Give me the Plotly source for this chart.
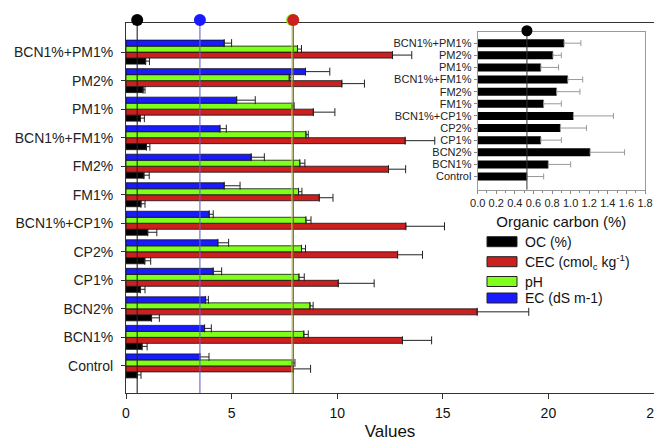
import plotly.graph_objects as go

categories = ["Control", "BCN1%", "BCN2%", "CP1%", "CP2%", "BCN1%+CP1%",
              "FM1%", "FM2%", "BCN1%+FM1%", "PM1%", "PM2%", "BCN1%+PM1%"]

ec = [3.50, 3.72, 3.77, 4.13, 4.35, 3.94, 4.65, 5.93, 4.45, 5.24, 8.50, 4.65]
ec_err = [0.43, 0.32, 0.13, 0.40, 0.51, 0.19, 0.75, 0.62, 0.30, 0.88, 1.15, 0.35]
ph = [7.86, 8.42, 8.71, 8.19, 8.31, 8.52, 8.17, 8.23, 8.52, 7.86, 7.73, 8.12]
ph_err = [0.14, 0.21, 0.15, 0.25, 0.19, 0.24, 0.16, 0.24, 0.11, 0.10, 0.08, 0.19]
cec = [7.92, 13.09, 16.63, 10.05, 12.86, 13.25, 9.15, 12.43, 13.22, 8.87, 10.22, 12.62]
cec_err = [0.82, 1.38, 2.44, 1.70, 1.18, 1.83, 0.65, 0.81, 1.40, 1.02, 1.07, 0.91]
oc = [0.53, 0.76, 1.21, 0.68, 0.89, 1.03, 0.71, 0.85, 0.97, 0.68, 0.81, 0.93]
oc_err = [0.18, 0.24, 0.37, 0.22, 0.28, 0.43, 0.19, 0.25, 0.16, 0.19, 0.09, 0.18]

series_names = ["OC (%)", "CEC (cmol<sub>c</sub> kg<sup>-1</sup>)", "pH", "EC (dS m-1)"]
x_ticks = [0, 5, 10, 15, 20, 25]
inset_ticks = [0.0, 0.2, 0.4, 0.6, 0.8, 1.0, 1.2, 1.4, 1.6, 1.8]

colors = {"oc": "#000000", "cec": "#cc1f1f", "ph": "#80ff1a", "ec": "#1a1aff"}
line_colors = {"oc": "#222222", "cec": "#b03030", "ph": "#90ee60", "ec": "#6666cc"}

FONT = "Arial, Liberation Sans, sans-serif"
ypos = list(range(len(categories)))  # category positions on the y axis
fig = go.Figure()

series = [("oc", oc, oc_err), ("cec", cec, cec_err), ("ph", ph, ph_err), ("ec", ec, ec_err)]
for (key, vals, errs), name in zip(series, series_names):
    fig.add_trace(go.Bar(
        y=ypos, x=vals, orientation="h", name=name, showlegend=False,
        marker=dict(color=colors[key], line=dict(color="#111111", width=0.8)),
        error_x=dict(type="data", symmetric=False, array=errs,
                     arrayminus=[0] * len(errs), color="#222222",
                     thickness=1, width=4),
        xaxis="x", yaxis="y",
    ))

# reference lines at control values with dots on top
y_lo, y_hi = -0.95, 12.02
for key, vals in [("oc", oc), ("ec", ec), ("ph", ph), ("cec", cec)]:
    v = vals[0]
    fig.add_trace(go.Scatter(
        x=[v, v], y=[y_lo, y_hi], mode="lines",
        line=dict(color=line_colors[key], width=1.1),
        showlegend=False, hoverinfo="skip", xaxis="x", yaxis="y",
    ))
    fig.add_shape(type="circle", layer="above",
                  xref="x", xsizemode="pixel", xanchor=v, x0=-6, x1=6,
                  yref="y domain", ysizemode="pixel", yanchor=1, y0=-3, y1=9,
                  fillcolor=colors[key], line=dict(width=0))

# inset OC chart
fig.add_trace(go.Bar(
    y=ypos, x=oc, orientation="h", showlegend=False, width=0.66,
    marker=dict(color="#000000", line=dict(width=0)),
    error_x=dict(type="data", symmetric=False, array=oc_err,
                 arrayminus=[0] * len(oc_err), color="#999999",
                 thickness=1, width=3),
    xaxis="x2", yaxis="y2",
))
i_lo, i_hi = -1.1, 11.9
fig.add_trace(go.Scatter(
    x=[oc[0], oc[0]], y=[i_lo, i_hi], mode="lines",
    line=dict(color="#333333", width=1),
    showlegend=False, hoverinfo="skip", xaxis="x2", yaxis="y2",
))
fig.add_shape(type="circle", layer="above",
              xref="x2", xsizemode="pixel", xanchor=oc[0], x0=-5.5, x1=5.5,
              yref="y2 domain", ysizemode="pixel", yanchor=1, y0=-4, y1=7,
              fillcolor="#000000", line=dict(width=0))

# manual legend (30x10 swatches); page pixel -> paper conversion
PX_L, PX_R, PX_T, PX_B = 126, 654, 23, 393
def px2paper_x(px):
    return (px - PX_L) / (PX_R - PX_L)
def px2paper_y(py):
    return (PX_B - py) / (PX_B - PX_T)

legend_y = [241.7, 261.7, 281.5, 298.0]
for (key, _, _), name, cy in zip(series, series_names, legend_y):
    fig.add_shape(type="rect", xref="paper", yref="paper",
                  x0=px2paper_x(487), x1=px2paper_x(517),
                  y0=px2paper_y(cy + 5), y1=px2paper_y(cy - 5),
                  fillcolor=colors[key], line=dict(color="#222222", width=1))
    fig.add_annotation(xref="paper", yref="paper", x=px2paper_x(523),
                       y=px2paper_y(cy), text=name, showarrow=False,
                       xanchor="left", yanchor="middle",
                       font=dict(family=FONT, size=14, color="#111111"))

# page has an 8px body margin: figure is 654x436 placed at (8,8)
fig.update_layout(
    width=654, height=436, autosize=False,
    margin=dict(l=118, r=8, t=15, b=51, pad=0),
    paper_bgcolor="white", plot_bgcolor="white",
    barmode="group", bargap=0.16, bargroupgap=0,
    font=dict(family=FONT, color="#111111"),
    xaxis=dict(range=[0, 25], tickvals=x_ticks, ticks="outside", ticklen=5,
               tickcolor="#333333", showline=True, linecolor="#333333",
               linewidth=1, mirror=True, showgrid=False, zeroline=False,
               tickfont=dict(size=14, color="#111111"), automargin=False,
               ticklabelstandoff=2, ticklabeloverflow="allow",
               title=dict(text="Values", font=dict(size=17, color="#111111"),
                          standoff=5),
               domain=[0, 1], anchor="y"),
    yaxis=dict(range=[y_lo, y_hi], tickmode="array", tickvals=ypos,
               ticktext=categories, ticks="outside", ticklen=4,
               tickcolor="#333333", showline=True, linecolor="#333333",
               linewidth=1, mirror=True, showgrid=False, zeroline=False,
               tickfont=dict(size=14, color="#222222"), ticklabelstandoff=5,
               automargin=False, domain=[0, 1], anchor="x"),
    xaxis2=dict(range=[0, 1.8], tickvals=inset_ticks, tickformat=".1f",
                ticks="outside", ticklen=3, tickcolor="#888888",
                minor=dict(dtick=0.1, ticks="outside", ticklen=2, tickcolor="#888888"),
                showline=True, linecolor="#999999", linewidth=1, mirror=True,
                showgrid=False, zeroline=False, automargin=False,
                ticklabeloverflow="allow",
                tickfont=dict(size=11, color="#222222"),
                title=dict(text="Organic carbon (%)",
                           font=dict(size=15, color="#111111"), standoff=8),
                domain=[0.666, 0.983], anchor="y2"),
    yaxis2=dict(range=[i_lo, i_hi], tickmode="array", tickvals=ypos,
                ticktext=categories, ticks="outside", ticklen=3,
                tickcolor="#888888", showline=True, linecolor="#999999",
                linewidth=1, mirror=True, showgrid=False, zeroline=False,
                tickfont=dict(size=11, color="#222222"), automargin=False,
                domain=[0.549, 0.975], anchor="x2"),
)

fig.write_html("out.html")
